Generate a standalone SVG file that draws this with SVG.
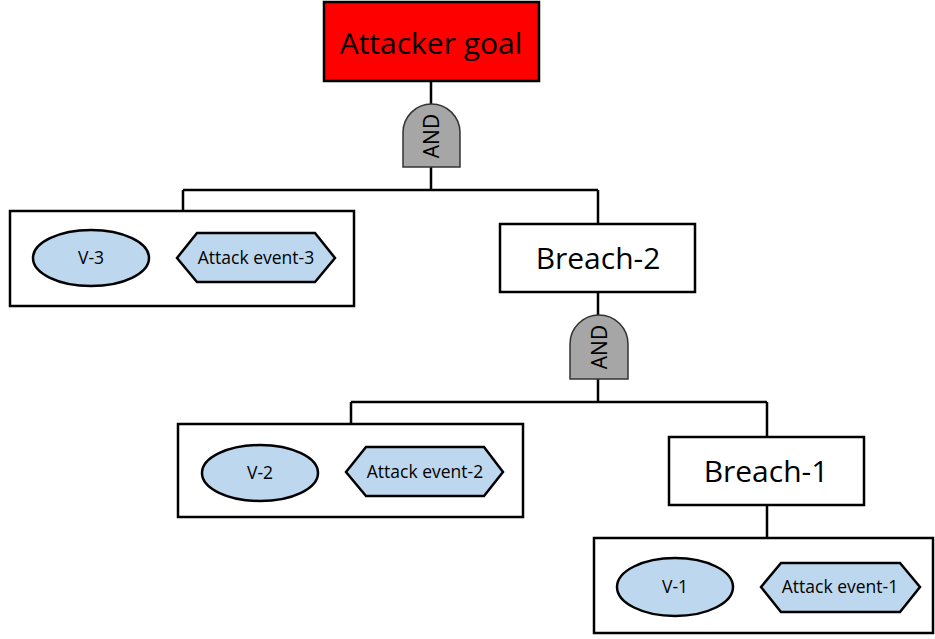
<svg xmlns="http://www.w3.org/2000/svg" width="935" height="639" viewBox="0 0 935 639">
<style>
.box{fill:#fff;stroke:#000;stroke-width:2.5}
.goal{fill:#ff0000;stroke:#000;stroke-width:2.5}
.gate{fill:#a6a6a6;stroke:#333;stroke-width:1.5}
.ev{fill:#bdd7ee;stroke:#000;stroke-width:2.5}
.ln{fill:none;stroke:#000;stroke-width:2.5}
text{font-family:"Open Sans","Liberation Sans",sans-serif;fill:#000;text-anchor:middle}
.big{font-size:30px}
.sm{font-size:17.5px}
.and{font-size:21px}
</style>
<rect width="935" height="639" fill="#fff"/>
<g id="connectors">
<path class="ln" d="M431,81V104M431,167V190M183,190H598M183,190V211M598,190V224"/>
<path class="ln" d="M598,292V315M598,379V402M351,402H767M351,402V424M767,402V437"/>
<path class="ln" d="M767,505V538"/>
</g>
<g id="goal">
<rect class="goal" x="324" y="2" width="215" height="79"/>
<text class="big" x="431" y="54">Attacker goal</text>
</g>
<g id="and1">
<path class="gate" d="M403,167V132.5A28.5,28.5 0 0 1 460,132.5V167Z"/>
<text class="and" transform="translate(439,136) rotate(-90)">AND</text>
</g>
<g id="group3">
<rect class="box" x="10" y="211" width="344" height="95"/>
<ellipse class="ev" cx="91" cy="258" rx="58" ry="28"/>
<text class="sm" x="91" y="264">V-3</text>
<polygon class="ev" points="177,258 197,233 315,233 335,258 315,282 197,282"/>
<text class="sm" x="256" y="264">Attack event-3</text>
</g>
<g id="breach2">
<rect class="box" x="500" y="224" width="195" height="68"/>
<text class="big" x="598" y="269">Breach-2</text>
</g>
<g id="and2">
<path class="gate" d="M570,379V344A29,29 0 0 1 628,344V379Z"/>
<text class="and" transform="translate(607,347) rotate(-90)">AND</text>
</g>
<g id="group2">
<rect class="box" x="178" y="424" width="345" height="93"/>
<ellipse class="ev" cx="260" cy="473" rx="58" ry="28"/>
<text class="sm" x="260" y="479">V-2</text>
<polygon class="ev" points="346,472 366,447 484,447 503,472 484,496 366,496"/>
<text class="sm" x="425" y="478">Attack event-2</text>
</g>
<g id="breach1">
<rect class="box" x="669" y="437" width="195" height="68"/>
<text class="big" x="766" y="482">Breach-1</text>
</g>
<g id="group1">
<rect class="box" x="594" y="538" width="339" height="95"/>
<ellipse class="ev" cx="675" cy="587" rx="58" ry="29"/>
<text class="sm" x="675" y="593">V-1</text>
<polygon class="ev" points="761,587 781,563 900,563 920,587 900,612 781,612"/>
<text class="sm" x="840" y="593">Attack event-1</text>
</g>
</svg>
